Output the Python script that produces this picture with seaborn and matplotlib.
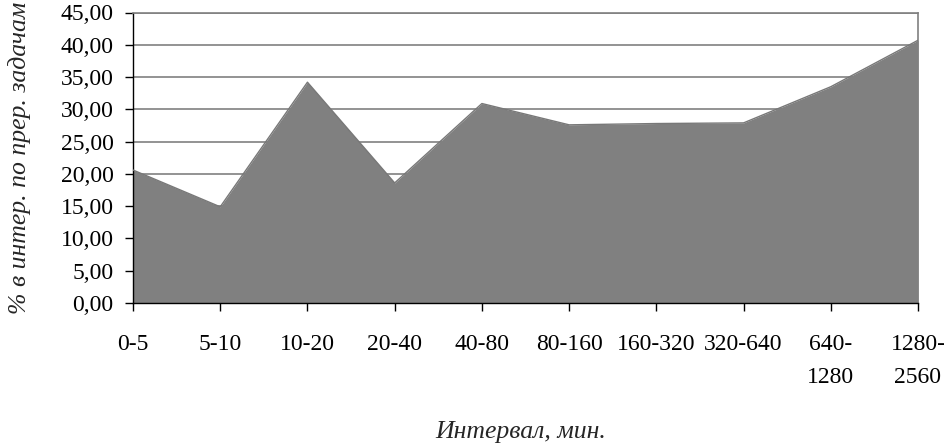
import numpy as np
import matplotlib
matplotlib.use('Agg')
import matplotlib.pyplot as plt
from matplotlib.ticker import FuncFormatter, MultipleLocator
import seaborn as sns

# Данные
intervals = ['0-5', '5-10', '10-20', '20-40', '40-80', '80-160', '160-320',
             '320-640', '640-\n1280', '1280-\n2560']
percent = [20.6, 14.9, 34.2, 18.6, 30.9, 27.6, 27.8, 27.9, 33.5, 40.7]

sns.set_style('white')
plt.rcParams['font.family'] = ['Liberation Serif', 'DejaVu Serif']

fig = plt.figure(figsize=(9.45, 4.47), dpi=100)
ax = fig.add_axes([133 / 945, 1 - 303 / 447, (918 - 133) / 945, (303 - 12.5) / 447])

x = np.arange(len(intervals))
ax.fill_between(x, 0, percent, color='#808080', linewidth=0, zorder=2)
sns.lineplot(x=x, y=percent, color='#787878', linewidth=1, ax=ax, zorder=3)

ax.set_xlim(0, len(intervals) - 1)
ax.set_ylim(0, 45)
ax.yaxis.set_major_locator(MultipleLocator(5))
ax.yaxis.set_major_formatter(FuncFormatter(lambda v, p: f'{v:.2f}'.replace('.', ',')))
ax.set_xticks(x)
ax.set_xticklabels(intervals, linespacing=1.75, va='top')

ax.grid(axis='y', color='#808080', linewidth=1.2, zorder=1)
ax.set_axisbelow(True)

for side in ['top', 'right']:
    ax.spines[side].set_color('#808080')
    ax.spines[side].set_linewidth(1.2)
for side in ['left', 'bottom']:
    ax.spines[side].set_color('black')
    ax.spines[side].set_linewidth(1.0)

ax.tick_params(axis='both', direction='out', length=6, width=1, color='black',
               labelsize=17, labelcolor='black')
ax.tick_params(axis='x', pad=16)
ax.tick_params(axis='y', pad=8)
ax.tick_params(left=True, bottom=True)

fig.text(20 / 945, 1 - 158 / 447, '% в интер. по прер. задачам', rotation=90,
         ha='center', va='center', fontsize=18.5, style='italic')
fig.text(521 / 945, 1 - 432 / 447, 'Интервал, мин.', ha='center', va='center',
         fontsize=18.5, style='italic')

fig.savefig('out.png', dpi=100)
